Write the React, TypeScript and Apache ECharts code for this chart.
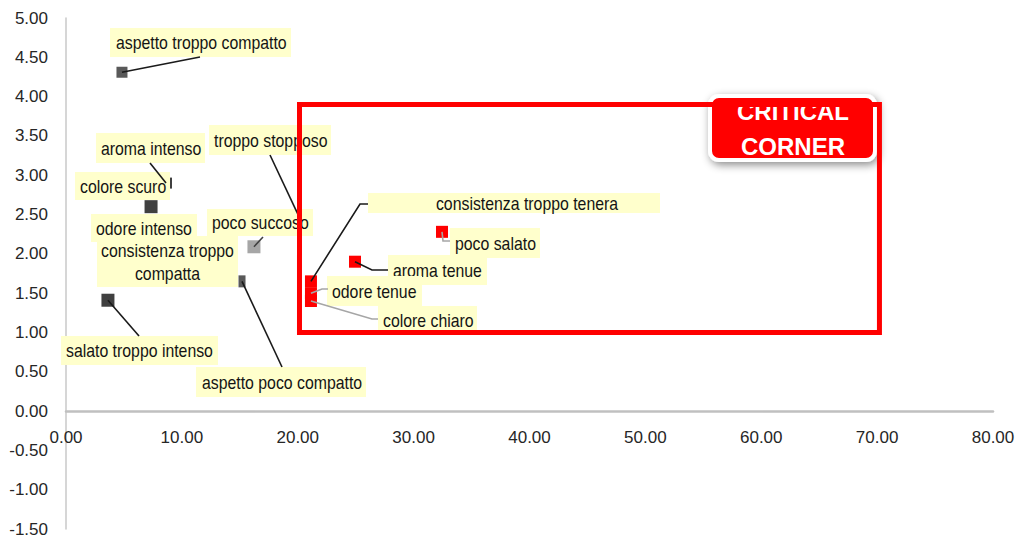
import React, { useEffect, useRef } from "react";
import * as echarts from "echarts";

// Sensory attributes: x = frequency (%), y = penalty
const attributeNames = [
  "aspetto troppo compatto",
  "aroma intenso",
  "colore scuro",
  "odore intenso",
  "consistenza troppo\ncompatta",
  "poco succoso",
  "troppo stopposo",
  "salato troppo intenso",
  "aspetto poco compatto",
  "consistenza troppo tenera",
  "poco salato",
  "aroma tenue",
  "odore tenue",
  "colore chiaro",
];
const xValues = [4.83, 8.63, 7.34, 7.25, 9.84, 16.22, 20.15, 3.62, 15.19, 21.14, 32.45, 24.94, 21.14, 21.14];
const yValues = [4.31, 2.9, 2.6, 2.33, 1.9, 2.09, 2.46, 1.41, 1.65, 1.65, 2.28, 1.9, 1.5, 1.4];

// Critical corner region (x range, y range)
const criticalX = [20.15, 70.2];
const criticalY = [1.0, 3.9];
const badgeLines = ["CRITICAL", "CORNER"];

// Axis ranges
const xAxisRange = { min: 0, max: 80, step: 10 };
const yAxisRange = { min: -1.5, max: 5, step: 0.5 };

// ---- styling / layout ----
const GRID = { left: 66, right: 22, top: 18, bottom: 9 };
const CHART_H = 538;
const DARK = "#404040";
const MID = "#595959";
const LIGHT = "#a6a6a6";
const RED = "#ff0000";
const markerColors = [MID, DARK, DARK, DARK, DARK, LIGHT, DARK, DARK, MID, RED, RED, RED, RED, RED];
const markerSizes: (number | number[])[] = [11, [12, 11], 13, 13, 13, 13, 4, 13, [7, 12], 12, 12, 12, 12, 12];

// label boxes in pixels: x, y, w, h and text anchor tx (left edge, or centre when centred)
const labelBoxes: { x: number; y: number; w: number; h: number; tx: number; center?: boolean }[] = [
  { x: 110, y: 28, w: 181, h: 29, tx: 116 },
  { x: 96, y: 133, w: 109, h: 30, tx: 101 },
  { x: 75, y: 172, w: 95, h: 28, tx: 80 },
  { x: 91, y: 214, w: 106, h: 28, tx: 96 },
  { x: 97, y: 236, w: 141, h: 51, tx: 167.5, center: true },
  { x: 207, y: 209, w: 106, h: 27, tx: 212 },
  { x: 209, y: 125, w: 122, h: 30, tx: 214 },
  { x: 61, y: 336, w: 157, h: 29, tx: 66 },
  { x: 196, y: 367, w: 170, h: 30, tx: 202 },
  { x: 368, y: 193, w: 292, h: 20, tx: 527, center: true },
  { x: 450, y: 228, w: 90, h: 30, tx: 455 },
  { x: 388, y: 255, w: 99, h: 30, tx: 393 },
  { x: 327, y: 276, w: 95, h: 30, tx: 332 },
  { x: 378, y: 306, w: 99, h: 28, tx: 383 },
];

const BLACK = "#1a1a1a";
const GREYLINE = "#a6a6a6";
// leader line: label anchor point, optional elbow, colour
const leaders: ({ a: number[]; e?: number[]; c: string } | null)[] = [
  { a: [200, 57], c: BLACK },
  { a: [150, 163], c: BLACK },
  null,
  null,
  null,
  { a: [263, 237], c: DARK },
  { a: [270, 155], c: BLACK },
  { a: [139, 336], c: BLACK },
  { a: [282, 367], c: BLACK },
  { a: [368, 204], e: [360, 204], c: BLACK },
  { a: [450, 241], e: [443, 241], c: GREYLINE },
  { a: [388, 270], e: [372, 270], c: BLACK },
  { a: [328, 289], e: [322, 289], c: GREYLINE },
  { a: [378, 319], e: [372, 319], c: GREYLINE },
];

const LABEL_FONT = "18px 'Liberation Sans', Arial, sans-serif";
const AXIS_FONT = "'Liberation Sans', Arial, sans-serif";

export default function App() {
  const ref = useRef<HTMLDivElement>(null);

  useEffect(() => {
    if (!ref.current) return;
    const chart = echarts.init(ref.current, undefined, { renderer: "svg" });

    const points = attributeNames.map((name, i) => ({
      name,
      value: [xValues[i], yValues[i]],
      symbolSize: markerSizes[i],
      itemStyle: { color: markerColors[i], opacity: 1 },
    }));

    const boxPath = [
      [criticalX[0], criticalY[0]],
      [criticalX[1], criticalY[0]],
      [criticalX[1], criticalY[1]],
      [criticalX[0], criticalY[1]],
      [criticalX[0], criticalY[0]],
    ];

    const fmt = (v: number) => v.toFixed(2);

    // lift the x axis (line and labels) from the grid bottom up to y = 0
    const plotH = CHART_H - GRID.top - GRID.bottom;
    const zeroOffset = -((0 - yAxisRange.min) / (yAxisRange.max - yAxisRange.min)) * plotH;

    chart.setOption({
      animation: false,
      backgroundColor: "#ffffff",
      grid: { ...GRID, containLabel: false, outerBoundsMode: "none" },
      xAxis: {
        type: "value",
        min: xAxisRange.min,
        max: xAxisRange.max,
        interval: xAxisRange.step,
        offset: zeroOffset,
        axisLine: { onZero: false, lineStyle: { color: "#c0c0c0", width: 2.5 } },
        axisTick: { show: false },
        splitLine: { show: false },
        axisLabel: {
          formatter: fmt,
          margin: 18,
          color: "#262626",
          fontSize: 17,
          fontFamily: AXIS_FONT,
        },
      },
      yAxis: {
        type: "value",
        min: yAxisRange.min,
        max: yAxisRange.max,
        interval: yAxisRange.step,
        axisLine: { show: true, onZero: false, lineStyle: { color: "#c8c8c8", width: 1.5 } },
        axisTick: { show: false },
        splitLine: { show: false },
        axisLabel: {
          formatter: fmt,
          margin: 18,
          color: "#262626",
          fontSize: 17,
          fontFamily: AXIS_FONT,
        },
      },
      series: [
        {
          type: "scatter",
          z: 2,
          symbol: "rect",
          data: points,
          emphasis: { disabled: true },
        },
        {
          // attribute name boxes
          type: "custom",
          z: 3,
          clip: false,
          silent: true,
          data: xValues.map((x, i) => [x, yValues[i]]),
          renderItem: (params: any) => {
            const i = params.dataIndex;
            const b = labelBoxes[i];
            return {
              type: "group",
              children: [
                {
                  type: "rect",
                  shape: { x: b.x, y: b.y, width: b.w, height: b.h },
                  style: { fill: "#ffffcc" },
                },
                {
                  type: "text",
                  x: b.tx,
                  y: b.y + b.h / 2 + 1,
                  scaleX: 0.88,
                  style: {
                    text: attributeNames[i],
                    font: LABEL_FONT,
                    fill: "#141414",
                    lineHeight: 23,
                    align: b.center ? "center" : "left",
                    verticalAlign: "middle",
                  },
                },
              ],
            };
          },
        },
        {
          // leader lines from each point to its name box
          type: "custom",
          z: 4,
          clip: false,
          silent: true,
          data: xValues.map((x, i) => [x, yValues[i]]),
          renderItem: (params: any, api: any) => {
            const l = leaders[params.dataIndex];
            if (!l) return null;
            const p = api.coord([api.value(0), api.value(1)]);
            const pts = l.e ? [p, l.e, l.a] : [p, l.a];
            return {
              type: "polyline",
              shape: { points: pts },
              style: { stroke: l.c, lineWidth: 1.6, fill: null },
            };
          },
        },
        {
          type: "line",
          z: 5,
          silent: true,
          symbol: "none",
          data: boxPath,
          lineStyle: { color: RED, width: 5, join: "miter", cap: "square" },
        },
      ],
      graphic: [
        {
          type: "group",
          x: 708,
          y: 94,
          z: 100,
          children: [
            {
              type: "rect",
              shape: { x: 2, y: 2, width: 165, height: 64, r: 9 },
              style: {
                fill: RED,
                stroke: "#ffffff",
                lineWidth: 4,
                shadowBlur: 8,
                shadowColor: "rgba(0,0,0,0.45)",
                shadowOffsetX: 2,
                shadowOffsetY: 3,
              },
            },
            {
              type: "text",
              x: 85,
              y: 17,
              style: {
                text: badgeLines[0],
                fill: "#ffffff",
                font: "bold 24px 'Liberation Sans', Arial, sans-serif",
                align: "center",
                verticalAlign: "middle",
              },
            },
            {
              type: "text",
              x: 85,
              y: 52,
              style: {
                text: badgeLines[1],
                fill: "#ffffff",
                font: "bold 24px 'Liberation Sans', Arial, sans-serif",
                align: "center",
                verticalAlign: "middle",
              },
            },
          ],
        },
      ],
    });

    return () => chart.dispose();
  }, []);

  return (
    <div
      ref={ref}
      style={{ position: "fixed", left: 0, top: 0, width: 1015, height: 538, background: "#fff" }}
    />
  );
}
